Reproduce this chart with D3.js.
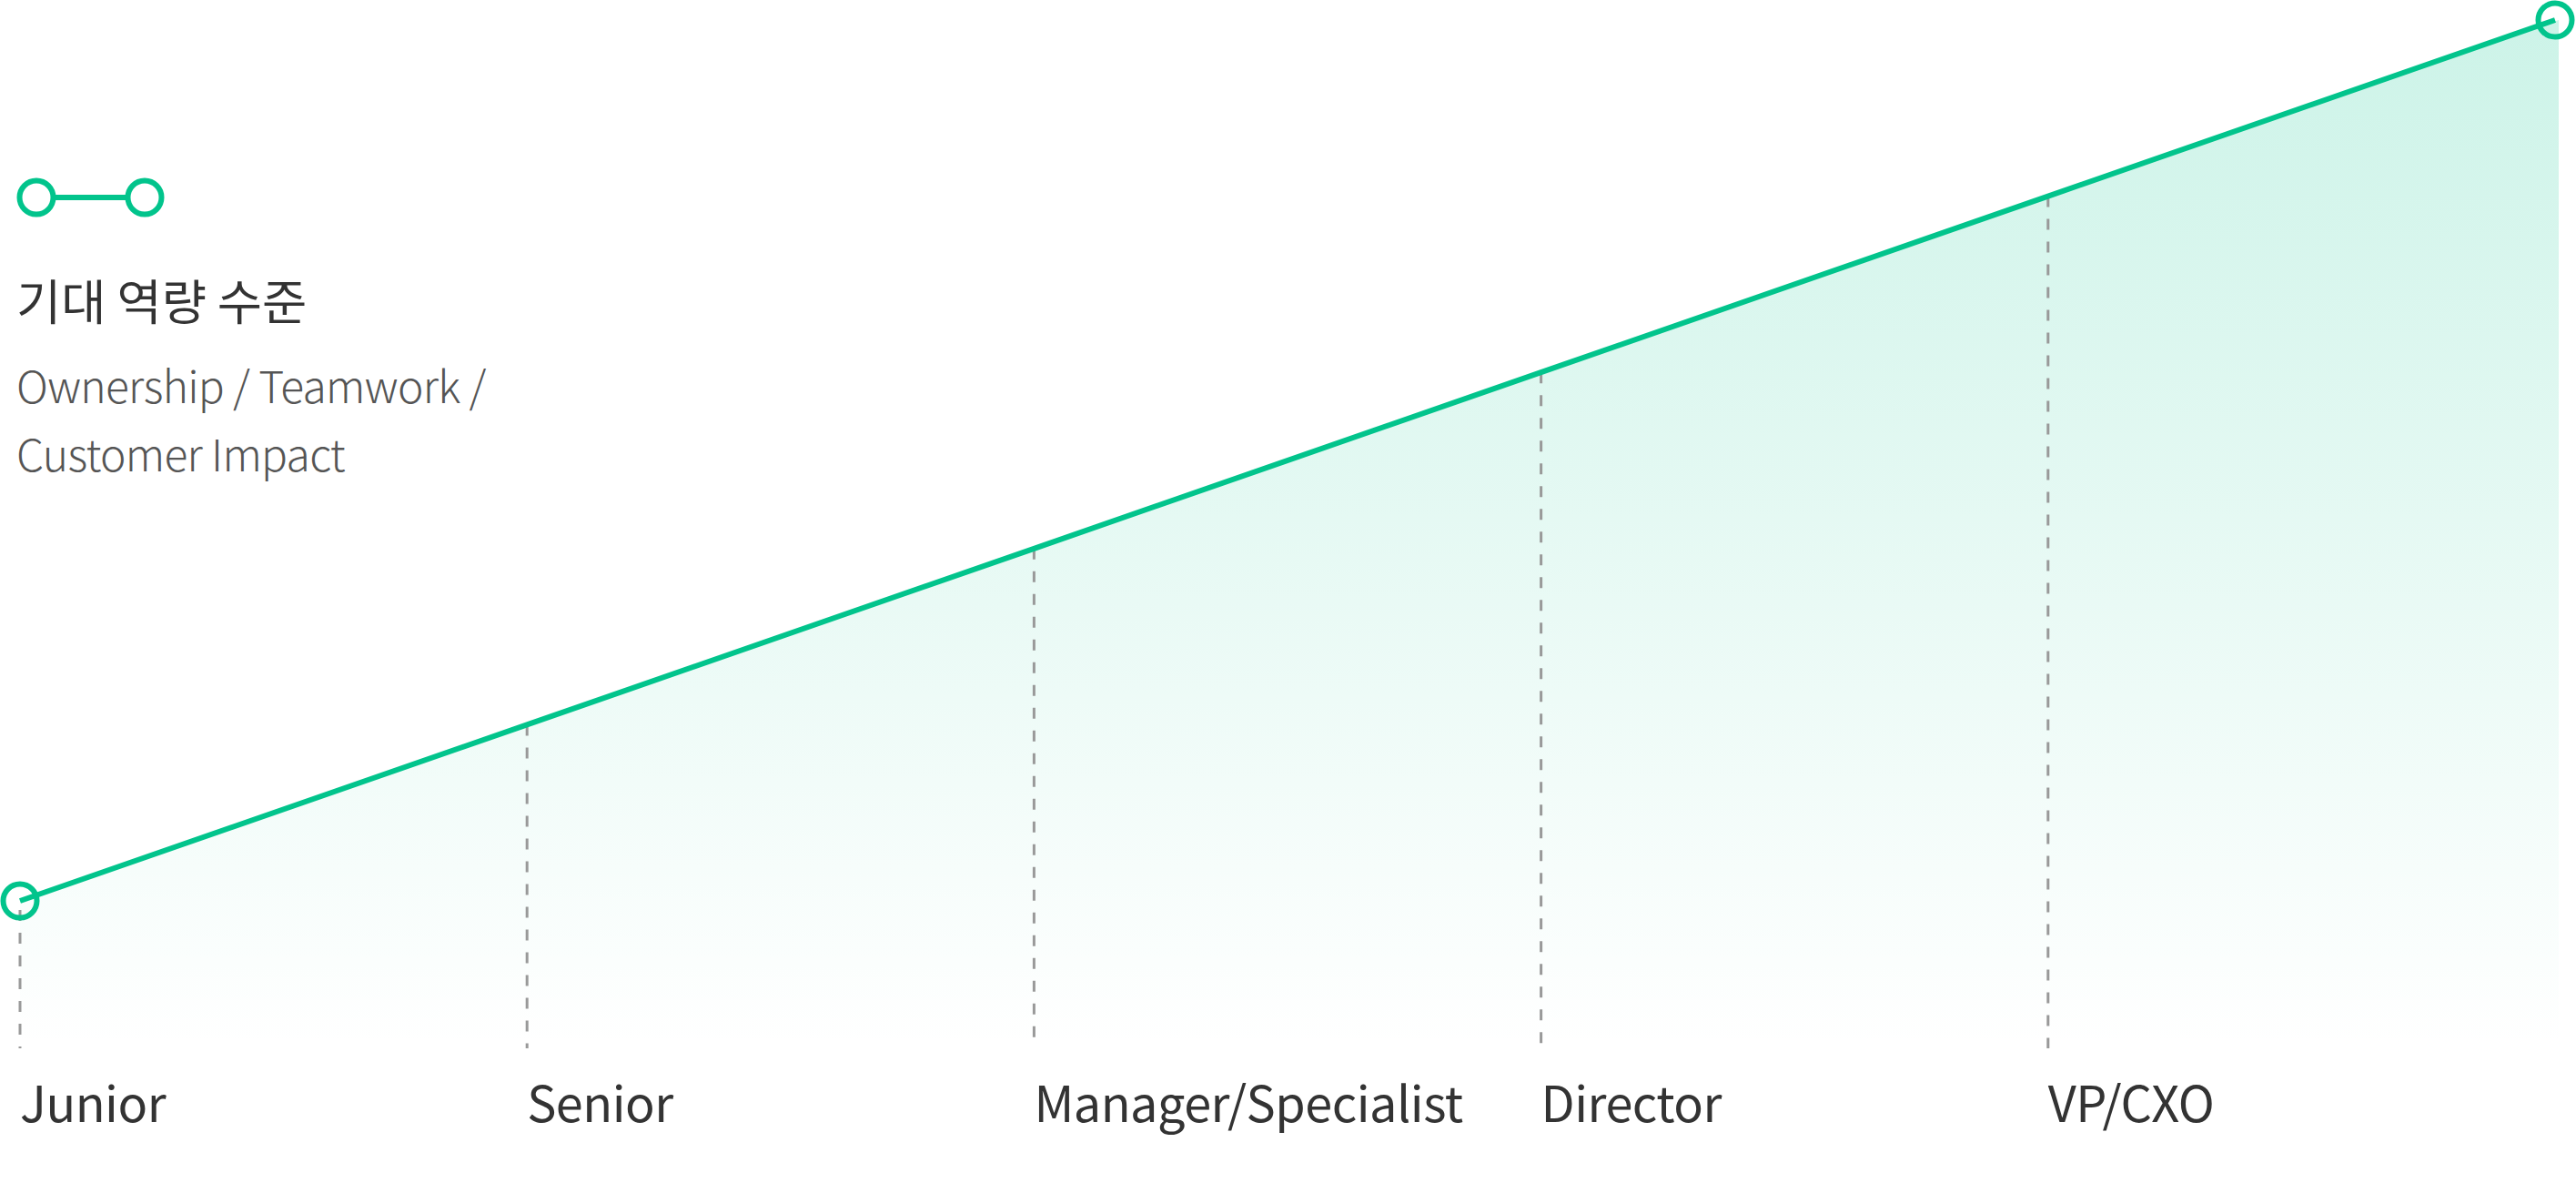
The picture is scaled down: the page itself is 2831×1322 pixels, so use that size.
<!DOCTYPE html>
<html>
<head>
<meta charset="utf-8">
<script src="https://cdn.jsdelivr.net/npm/d3@7"></script>
<style>
  html, body { margin: 0; padding: 0; background: #fff; }
  svg { display: block; }
  text { font-family: "Noto Sans CJK KR", "Noto Sans", sans-serif; }
</style>
</head>
<body>
<svg id="chart" width="2831" height="1322"></svg>
<script>
// ---- data ----
const categories = ["Junior", "Senior", "Manager/Specialist", "Director", "VP/CXO", ""];
const levels = [1, 2, 3, 4, 5, 6];
const legendTitle = "기대 역량 수준";
const legendSubtitle = ["Ownership / Teamwork /", "Customer Impact"];

// ---- layout ----
const green = "#02c48c";
const svg = d3.select("#chart");

const x = d3.scalePoint().domain(d3.range(categories.length)).range([22, 2808]);
const y = d3.scaleLinear().domain([1, 6]).range([990, 22]);
const baseY = 1152;

const data = levels.map((v, i) => ({ i, v, name: categories[i] }));

// gradient
const defs = svg.append("defs");
const grad = defs.append("linearGradient")
  .attr("id", "areaGrad").attr("gradientUnits", "userSpaceOnUse")
  .attr("x1", 0).attr("y1", y(6)).attr("x2", 0).attr("y2", baseY);
grad.append("stop").attr("offset", "0%").attr("stop-color", green).attr("stop-opacity", 0.2);
grad.append("stop").attr("offset", "100%").attr("stop-color", green).attr("stop-opacity", 0);

// area
const area = d3.area()
  .x(d => d.i === data.length - 1 ? x(d.i) + 4 : x(d.i))
  .y0(baseY).y1(d => y(d.v));
svg.append("path").datum(data).attr("d", area).attr("fill", "url(#areaGrad)");

// dashed guides
svg.append("g").selectAll("line")
  .data(data.filter(d => d.name !== ""))
  .join("line")
  .attr("x1", d => x(d.i)).attr("x2", d => x(d.i))
  .attr("y1", d => y(d.v) + (d.i === 0 ? 10 : 0)).attr("y2", baseY)
  .attr("stroke", "#999").attr("stroke-width", 3)
  .attr("stroke-dasharray", "12 13");

// line
const line = d3.line().x(d => x(d.i)).y(d => y(d.v));
svg.append("path").datum(data).attr("d", line)
  .attr("fill", "none").attr("stroke", green).attr("stroke-width", 6);

// endpoint circles
svg.append("g").selectAll("circle")
  .data([data[0], data[data.length - 1]])
  .join("circle")
  .attr("cx", d => x(d.i)).attr("cy", d => y(d.v)).attr("r", 18.5)
  .attr("fill", "none").attr("stroke", green).attr("stroke-width", 6);

// category labels
svg.append("g").selectAll("text")
  .data(data.filter(d => d.name !== ""))
  .join("text")
  .attr("x", d => x(d.i)).attr("y", 1233)
  .attr("font-size", 54).attr("letter-spacing", -0.5).attr("fill", "#333")
  .text(d => d.name);

// legend
const lg = svg.append("g");
lg.append("line").attr("x1", 40).attr("x2", 159).attr("y1", 217).attr("y2", 217)
  .attr("stroke", green).attr("stroke-width", 6);
lg.selectAll("circle").data([40, 159]).join("circle")
  .attr("cx", d => d).attr("cy", 217).attr("r", 18.5)
  .attr("fill", "#fff").attr("stroke", green).attr("stroke-width", 6);
lg.append("text").attr("x", 18).attr("y", 352).attr("font-size", 53.5).attr("fill", "#333")
  .text(legendTitle);
lg.selectAll("text.sub").data(legendSubtitle).join("text").attr("class", "sub")
  .attr("x", 18).attr("y", (d, i) => 443 + i * 75)
  .attr("font-size", 48).attr("font-weight", 300).attr("letter-spacing", -0.7).attr("fill", "#555")
  .text(d => d);
</script>
</body>
</html>
